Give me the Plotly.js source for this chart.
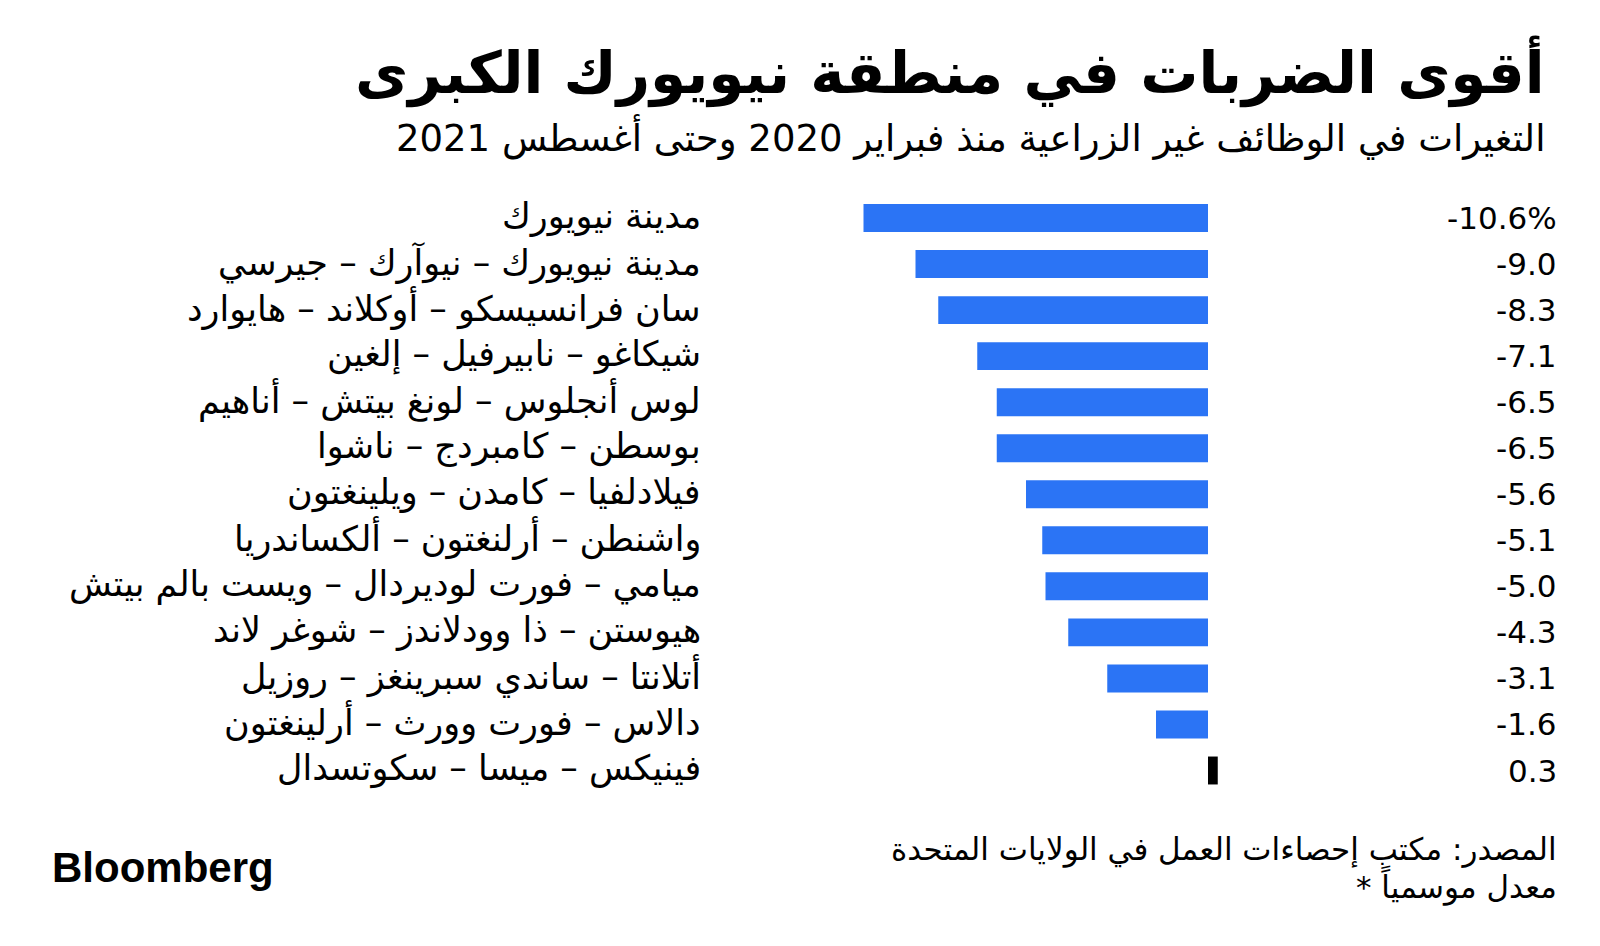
<!DOCTYPE html>
<html>
<head>
<meta charset="utf-8">
<script src="https://cdn.plot.ly/plotly-3.0.1.min.js"></script>
<style>html,body{margin:0;padding:0;background:#fff;}#chart{width:1600px;height:946px;}</style>
</head>
<body>
<div id="chart"></div>
<script>
const categories = [
  "مدينة نيويورك",
  "مدينة نيويورك – نيوآرك – جيرسي",
  "سان فرانسيسكو – أوكلاند – هايوارد",
  "شيكاغو – نابيرفيل – إلغين",
  "لوس أنجلوس – لونغ بيتش – أناهيم",
  "بوسطن – كامبردج – ناشوا",
  "فيلادلفيا – كامدن – ويلينغتون",
  "واشنطن – أرلنغتون – ألكساندريا",
  "ميامي – فورت لوديردال – ويست بالم بيتش",
  "هيوستن – ذا وودلاندز – شوغر لاند",
  "أتلانتا – ساندي سبرينغز – روزيل",
  "دالاس – فورت وورث – أرلينغتون",
  "فينيكس – ميسا – سكوتسدال"
];
const values = [-10.6, -9.0, -8.3, -7.1, -6.5, -6.5, -5.6, -5.1, -5.0, -4.3, -3.1, -1.6, 0.3];
const valueLabels = ["-10.6%", "-9.0", "-8.3", "-7.1", "-6.5", "-6.5", "-5.6", "-5.1", "-5.0", "-4.3", "-3.1", "-1.6", "0.3"];

const titleText = "أقوى الضربات في منطقة نيويورك الكبرى";
const subtitleText = "التغيرات في الوظائف غير الزراعية منذ فبراير 2020 وحتى أغسطس 2021";
const sourceText = "المصدر: مكتب إحصاءات العمل في الولايات المتحدة";
const noteText = "* معدل موسمياً";
const brandText = "Bloomberg";

const AR = '"DejaVu Sans", sans-serif';
const LAT = '"Liberation Sans", Arial, sans-serif';
const NUM = '"DejaVu Sans", sans-serif';

const W = 1600, H = 946;
const mL = 857, mR = 379, mT = 195, mB = 151;
const plotW = W - mL - mR;
const px = x => (x - mL) / plotW;        // page x -> paper x
const pyp = y => 1 - (y - mT) / (H - mT - mB); // page y -> paper y

const barColors = values.map(v => v < 0 ? "#2b74f5" : "#000000");

const annotations = [];
categories.forEach((c, i) => {
  annotations.push({xref: "paper", yref: "y", x: px(703), y: c, text: c, showarrow: false,
    xanchor: "right", yanchor: "middle", yshift: 2, font: {family: AR, size: 35, color: "#000"}});
  annotations.push({xref: "paper", yref: "y", x: px(1559), y: c, text: valueLabels[i], showarrow: false,
    xanchor: "right", yanchor: "middle", font: {family: NUM, size: 31, color: "#000"}});
});
annotations.push({xref: "paper", yref: "paper", x: px(1547), y: pyp(72), text: "<b>" + titleText + "</b>",
  showarrow: false, xanchor: "right", yanchor: "middle", font: {family: AR, size: 58, color: "#000"}});
annotations.push({xref: "paper", yref: "paper", x: px(1547), y: pyp(137), text: subtitleText,
  showarrow: false, xanchor: "right", yanchor: "middle", font: {family: AR, size: 37, color: "#000"}});
annotations.push({xref: "paper", yref: "paper", x: px(1559), y: pyp(849), text: sourceText,
  showarrow: false, xanchor: "right", yanchor: "middle", font: {family: AR, size: 31, color: "#000"}});
annotations.push({xref: "paper", yref: "paper", x: px(1559), y: pyp(885), text: noteText,
  showarrow: false, xanchor: "right", yanchor: "middle", font: {family: AR, size: 31, color: "#000"}});
annotations.push({xref: "paper", yref: "paper", x: px(50), y: pyp(867), text: "<b>" + brandText + "</b>",
  showarrow: false, xanchor: "left", yanchor: "middle", font: {family: LAT, size: 42, color: "#000"}});

const trace = {
  type: "bar", orientation: "h",
  x: values, y: categories,
  marker: {color: barColors, line: {width: 0}},
  hoverinfo: "skip"
};

const layout = {
  width: W, height: H,
  margin: {l: mL, r: mR, t: mT, b: mB, pad: 0},
  paper_bgcolor: "#ffffff", plot_bgcolor: "#ffffff",
  showlegend: false,
  bargap: 0.393,
  xaxis: {range: [-10.8, 0.4], showgrid: false, zeroline: false, showticklabels: false, showline: false, ticks: "", fixedrange: true},
  yaxis: {type: "category", autorange: "reversed", showgrid: false, zeroline: false, showticklabels: false, showline: false, ticks: "", fixedrange: true},
  annotations: annotations
};

Plotly.newPlot("chart", [trace], layout, {displayModeBar: false, staticPlot: true});
</script>
</body>
</html>
